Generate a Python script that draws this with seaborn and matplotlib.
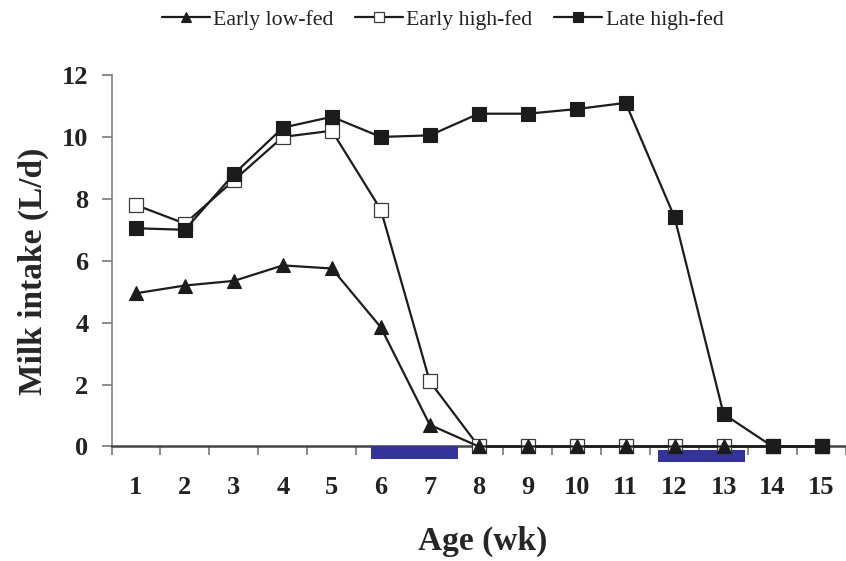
import numpy as np
import pandas as pd
import matplotlib
matplotlib.use("Agg")
import matplotlib.pyplot as plt
from matplotlib.patches import Rectangle
import seaborn as sns

# Weekly milk intake (L/d) for the three feeding groups
weeks = list(range(1, 16))
early_low_fed = [4.95, 5.2, 5.35, 5.85, 5.75, 3.85, 0.7, 0, 0, 0, 0, 0, 0, 0, 0]
early_high_fed = [7.8, 7.2, 8.6, 10.0, 10.2, 7.65, 2.1, 0, 0, 0, 0, 0, 0, 0, 0]
late_high_fed = [7.05, 7.0, 8.8, 10.3, 10.65, 10.0, 10.05, 10.75, 10.75, 10.9,
                 11.1, 7.4, 1.05, 0, 0]
series_labels = ["Early low-fed", "Early high-fed", "Late high-fed"]
y_ticks = [0, 2, 4, 6, 8, 10, 12]

# Weaning windows (start week, end week)
weaning_periods = [(5.79, 7.57), (11.66, 13.44)]

df = pd.DataFrame({
    "week": weeks * 3,
    "intake": early_low_fed + early_high_fed + late_high_fed,
    "group": sum([[g] * len(weeks) for g in series_labels], []),
})

sns.set_style("ticks")
plt.rcParams["font.family"] = ["Liberation Serif", "DejaVu Serif"]
plt.rcParams["text.color"] = "#222222"
plt.rcParams["xtick.color"] = "#222222"
plt.rcParams["ytick.color"] = "#222222"

fig = plt.figure(figsize=(8.46, 5.61), dpi=100)
ax = fig.add_axes([0.1318, 0.2041, 0.8682, 0.6622])

ink = "#1c1c1c"
styles = {
    "Early high-fed": dict(marker="s", markerfacecolor="white", markersize=9.5,
                           markeredgewidth=0.9, markeredgecolor="#3a3a3a",
                           zorder=3),
    "Early low-fed": dict(marker="^", markerfacecolor=ink, markersize=9.5,
                          markeredgewidth=0.8, markeredgecolor=ink, zorder=4),
    "Late high-fed": dict(marker="s", markerfacecolor=ink, markersize=9.5,
                          markeredgewidth=0.8, markeredgecolor=ink, zorder=5),
}
lines = {}
for name in ["Early high-fed", "Early low-fed", "Late high-fed"]:
    sub = df[df["group"] == name]
    sns.lineplot(data=sub, x="week", y="intake", ax=ax, color=ink,
                 linewidth=1.6, clip_on=False, legend=False,
                 label=name, **styles[name])
    lines[name] = ax.get_lines()[-1]

# Weaning bars just under the axis
bar_extents = [(0.0, -0.40), (-0.10, -0.51)]
for (start, end), (top, bottom) in zip(weaning_periods, bar_extents):
    ax.add_patch(Rectangle((start, bottom), end - start, top - bottom,
                           facecolor="#333399", edgecolor="none",
                           clip_on=False, zorder=2.6))

ax.set_xlim(0.5, 15.32)
ax.set_ylim(0, 12)
ax.set_xticks(weeks)
ax.set_xticks(np.arange(0.5, 16, 1), minor=True)
ax.set_yticks(y_ticks)
ax.tick_params(axis="x", which="major", length=0, pad=21, labelsize=19)
ax.tick_params(axis="x", which="minor", length=6.5, width=1.2,
               color="#777777", direction="out", bottom=True)
ax.tick_params(axis="y", which="major", length=7.2, width=1.2,
               color="#777777", pad=9.4, labelsize=19, direction="out",
               left=True)
for lab in ax.get_xticklabels() + ax.get_yticklabels():
    lab.set_fontweight("bold")

for side in ["top", "right"]:
    ax.spines[side].set_visible(False)
ax.spines["left"].set_color("#808080")
ax.spines["left"].set_linewidth(1.2)
ax.spines["bottom"].set_color("#444444")
ax.spines["bottom"].set_linewidth(1.8)

ax.set_xlabel("Age (wk)", fontsize=24, fontweight="bold", va="baseline")
ax.xaxis.set_label_coords(0.506, -0.2776)
ax.set_ylabel("Milk intake (L/d)", fontsize=24, fontweight="bold", va="center")
ax.yaxis.set_label_coords(-0.107, 0.4717)

fig.legend([lines[n] for n in series_labels], series_labels, loc="center",
           bbox_to_anchor=(0.523, 0.965), ncol=3, frameon=False,
           fontsize=15.7, handlelength=2.2, handletextpad=0.15,
           columnspacing=1.0, markerscale=0.8)

fig.savefig("out.png", dpi=100)
